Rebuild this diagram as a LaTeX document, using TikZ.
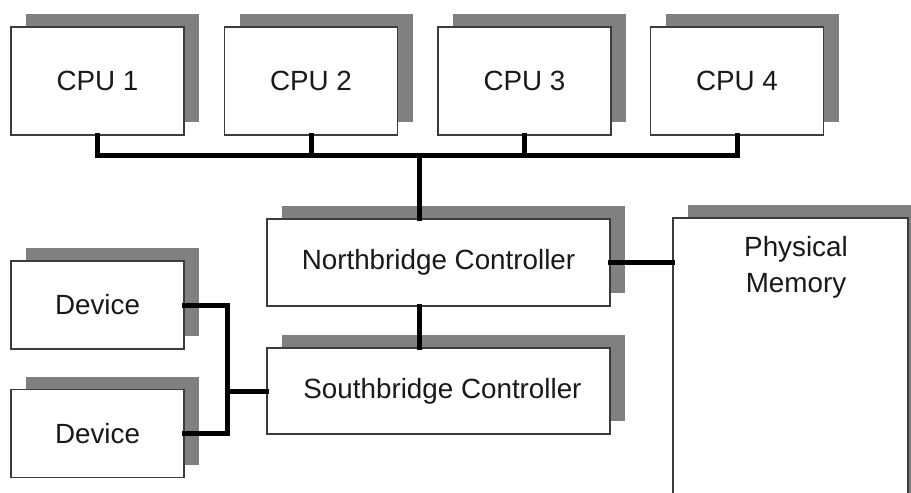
\documentclass[tikz,border=0pt]{standalone}
\usepackage{fontspec}
\setmainfont{Liberation Sans}
\usetikzlibrary{shadows}
\definecolor{shadowgray}{RGB}{128,128,128}
\definecolor{edgegray}{RGB}{60,60,60}
\definecolor{txt}{RGB}{25,25,25}
\begin{document}
\begin{tikzpicture}[x=1pt,y=-1pt,
  box/.style={draw=edgegray, line width=1.2pt, fill=white, rectangle, inner sep=0pt,
    text=txt, font=\fontsize{27.8}{34}\selectfont,
    drop shadow={shadow xshift=15pt, shadow yshift=13pt, opacity=1, fill=shadowgray}},
  conn/.style={line width=5pt, black, line join=miter, line cap=rect},
  plain/.style={text=txt, font=\fontsize{27.8}{36}\selectfont, align=center, inner sep=0pt}]
\useasboundingbox (0,0) rectangle (911,493);
\clip (0,0) rectangle (911,493);
% CPUs
\node[box, minimum width=173pt, minimum height=108pt] (cpu1) at (97.5,81) {CPU 1};
\node[box, minimum width=173pt, minimum height=108pt] (cpu2) at (311,81) {CPU 2};
\node[box, minimum width=173pt, minimum height=108pt] (cpu3) at (524.5,81) {CPU 3};
\node[box, minimum width=173pt, minimum height=108pt] (cpu4) at (737,81) {CPU 4};
% bridges
\node[box, minimum width=343pt, minimum height=87pt] (nb) at (438.5,262.5) {Northbridge Controller};
\node[box, minimum width=343pt, minimum height=86pt] (sb) at (438.5,391) {\hspace*{8pt}Southbridge Controller};
% devices
\node[box, minimum width=173pt, minimum height=88pt] (dev1) at (97.5,305) {Device};
\node[box, minimum width=173pt, minimum height=88pt] (dev2) at (97.5,433.5) {Device};
% memory
\node[box, minimum width=235pt, minimum height=320pt] (mem) at (790.5,378) {};
\node[plain, anchor=north] (memtext) at (796,236) {Physical\\Memory};
% connectors
\coordinate (bus) at (419,155);
\coordinate (junc) at (227,391);
\draw[conn] (cpu1.south) |- (bus) -| (cpu4.south);
\draw[conn] (cpu2.south) -- (cpu2.south |- bus);
\draw[conn] (cpu3.south) -- (cpu3.south |- bus);
\draw[conn] (bus) -- (bus |- nb.north);
\draw[conn] (bus |- nb.south) -- (bus |- sb.north);
\draw[conn] (nb.east) -- (nb.east -| mem.west);
\draw[conn] (dev1.east) -| (junc) |- (dev2.east);
\draw[conn] (junc) -- (sb.west);
\end{tikzpicture}
\end{document}
